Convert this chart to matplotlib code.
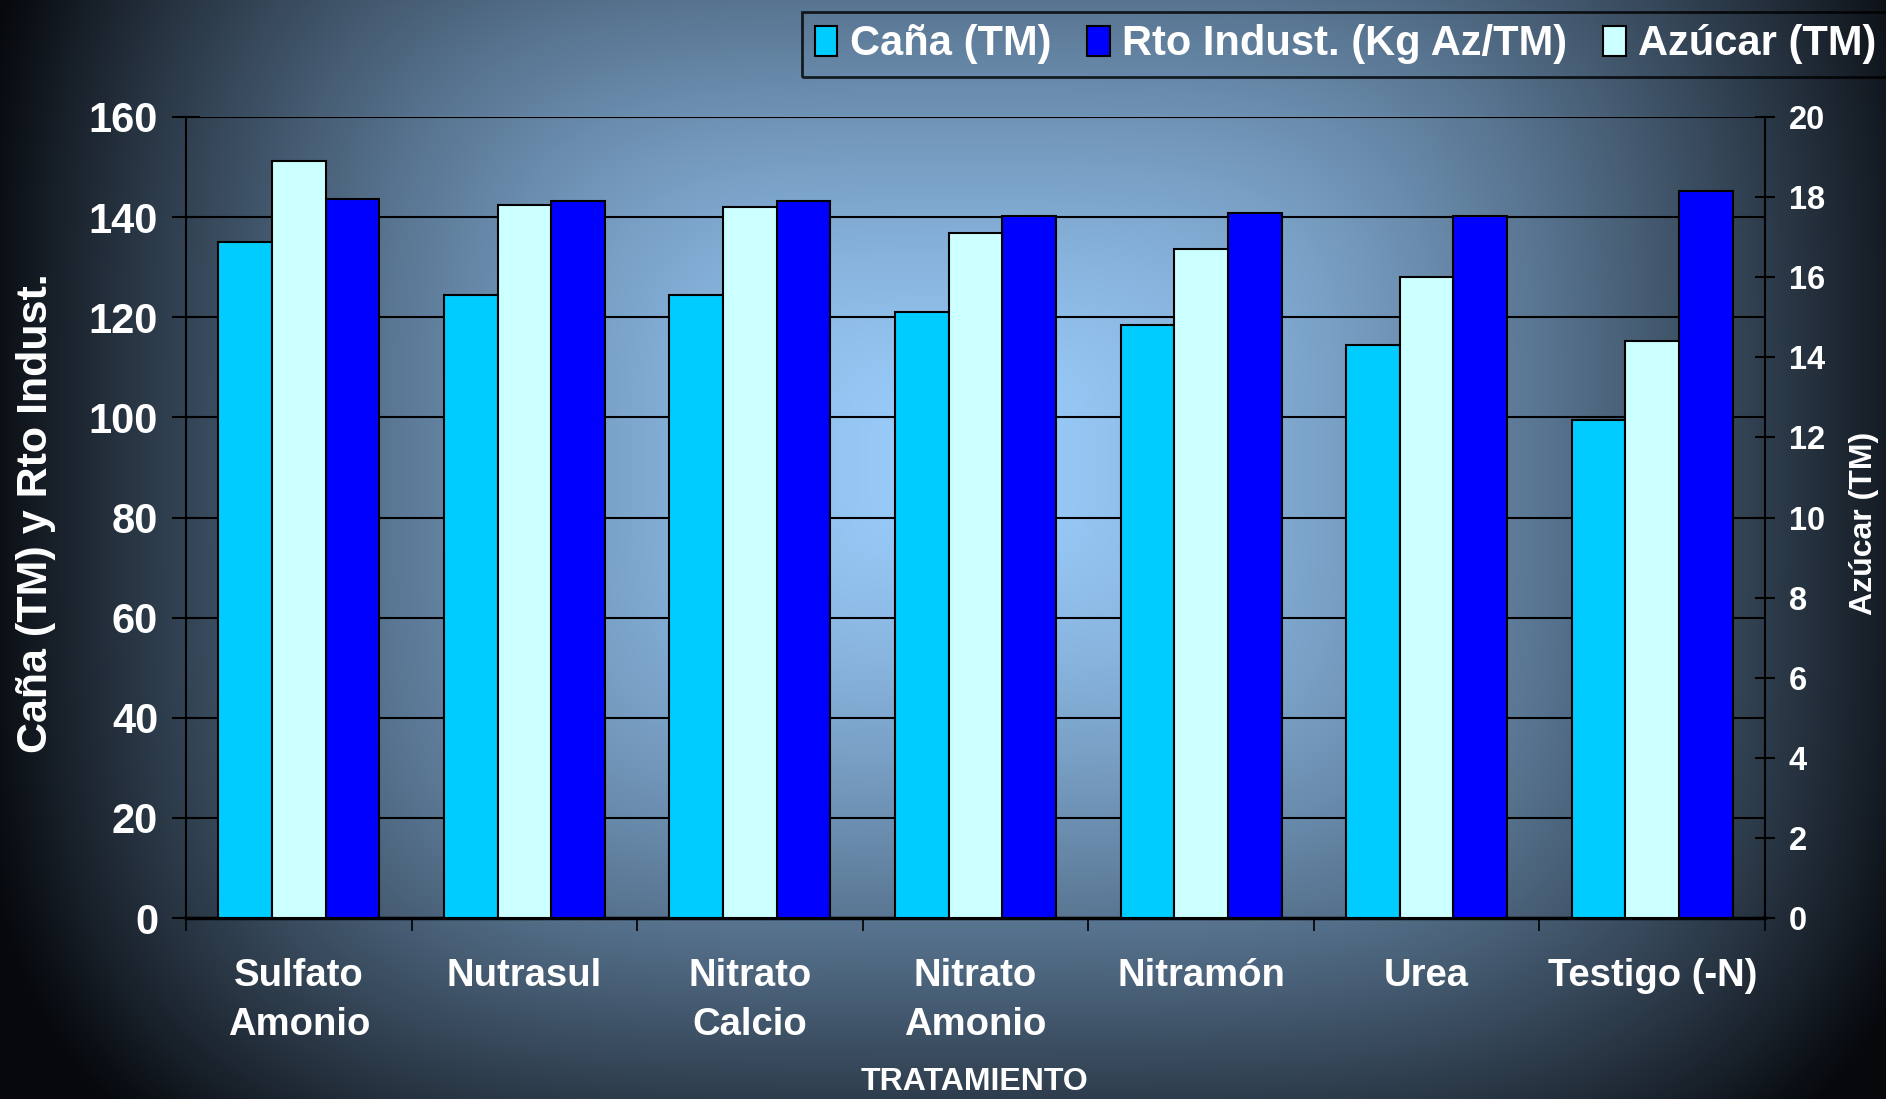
import numpy as np
import matplotlib
matplotlib.use('Agg')
import matplotlib.pyplot as plt
from matplotlib.patches import Patch

# data
tratamientos = ['Sulfato\nAmonio', 'Nutrasul', 'Nitrato\nCalcio', 'Nitrato\nAmonio',
                'Nitramón', 'Urea', 'Testigo (-N)']
cana = [135.0, 124.4, 124.4, 121.1, 118.4, 114.4, 99.5]
rto_indust = [143.7, 143.2, 143.2, 140.3, 140.8, 140.3, 145.3]
azucar = [18.9, 17.8, 17.75, 17.1, 16.7, 16.0, 14.4]

col_cana = '#00CCFF'
col_rto = '#0000FF'
col_az = '#CCFFFF'

plt.rcParams['font.family'] = ['Liberation Sans', 'DejaVu Sans']
plt.rcParams['font.weight'] = 'bold'

W, H = 1886, 1099
fig = plt.figure(figsize=(W / 100, H / 100), dpi=100)

# background gradient (bright centre, dark edges)
bg = fig.add_axes([0, 0, 1, 1], zorder=-10)
yy, xx = np.mgrid[0:H, 0:W]
nx = np.abs(xx - 0.51 * W) / (0.50 * W)
ny = np.abs(yy - 0.42 * H) / (0.68 * H)
d = (nx ** 4 + ny ** 4) ** 0.25
d = np.clip(d, 0, 1.05) / 1.05
c0 = np.array([155, 205, 252]) / 255.
c1 = np.array([6, 8, 12]) / 255.
t = d[..., None] ** 1.5
img = c0 + (c1 - c0) * t
bg.imshow(img, aspect='auto', extent=[0, 1, 0, 1])
bg.axis('off')

ax = fig.add_axes([186 / W, 1 - 918 / H, (1765 - 186) / W, (918 - 117) / H])
ax.set_facecolor('none')
ax2 = ax.twinx()

x = np.arange(len(tratamientos))
w = 0.238
ax.bar(x - w, cana, w, color=col_cana, edgecolor='black', linewidth=1.5, zorder=3)
ax.bar(x + w, rto_indust, w, color=col_rto, edgecolor='black', linewidth=1.5, zorder=3)
ax2.bar(x, azucar, w, color=col_az, edgecolor='black', linewidth=1.5, zorder=3)

ax.set_xlim(-0.5, len(tratamientos) - 0.5)
ax.set_ylim(0, 160)
ax2.set_ylim(0, 20)
ax.set_yticks(np.arange(0, 161, 20))
ax2.set_yticks(np.arange(0, 21, 2))
ax.yaxis.grid(True, color='black', linewidth=1.5, zorder=0)
ax.set_axisbelow(True)

ax.set_xticks(np.arange(-0.5, len(tratamientos), 1.0))
ax.set_xticklabels([])
ax.set_xticks(x, minor=True)
ax.set_xticklabels(tratamientos, minor=True, fontsize=27.5, color='white',
                   fontweight='bold', linespacing=1.45, va='top')
ax.tick_params(axis='x', which='major', length=9, width=1.2, direction='out', color='black')
ax.tick_params(axis='x', which='minor', length=0, pad=29)

ax.tick_params(axis='y', length=20, width=1.5, direction='inout', pad=10,
               labelsize=30, labelcolor='white', color='black')
ax2.tick_params(axis='y', length=14, width=1.5, direction='inout', pad=10,
                labelsize=23.5, labelcolor='white', color='black')
for lab in ax.get_yticklabels() + ax2.get_yticklabels():
    lab.set_fontweight('bold')

ax.spines['top'].set_visible(False)
ax2.spines['top'].set_visible(False)
ax2.spines['left'].set_visible(False)
ax2.spines['bottom'].set_visible(False)
ax.spines['right'].set_visible(False)
ax.spines['left'].set_linewidth(1.5)
ax.spines['bottom'].set_linewidth(2.5)
ax2.spines['right'].set_linewidth(1.5)

fig.text(36 / W, 1 - 513 / H, 'Caña (TM) y Rto Indust.', rotation=90, color='white',
         fontsize=31, fontweight='bold', ha='center', va='center')
fig.text(1864 / W, 1 - 523 / H, 'Azúcar (TM)', rotation=90, color='white',
         fontsize=23, fontweight='bold', ha='center', va='center')
fig.text(0.5165, 1 - 1082 / H, 'TRATAMIENTO', color='white', fontsize=23,
         fontweight='bold', ha='center', va='center')

handles = [Patch(facecolor=col_cana, edgecolor='black', linewidth=1.5),
           Patch(facecolor=col_rto, edgecolor='black', linewidth=1.5),
           Patch(facecolor=col_az, edgecolor='black', linewidth=1.5)]
labels = ['Caña (TM)', 'Rto Indust. (Kg Az/TM)', 'Azúcar (TM)']
leg = fig.legend(handles, labels, loc='upper left', bbox_to_anchor=(802 / W, 1 - 12 / H),
                 ncol=3, frameon=True, fancybox=False, edgecolor='black',
                 handlelength=0.55, handleheight=0.7, handletextpad=0.3, columnspacing=0.85,
                 borderpad=0.3, borderaxespad=0, prop={'size': 30, 'weight': 'bold'})
leg.get_frame().set_linewidth(2)
leg.get_frame().set_facecolor('none')
for txt in leg.get_texts():
    txt.set_color('white')

fig.savefig('out.png', dpi=100)
